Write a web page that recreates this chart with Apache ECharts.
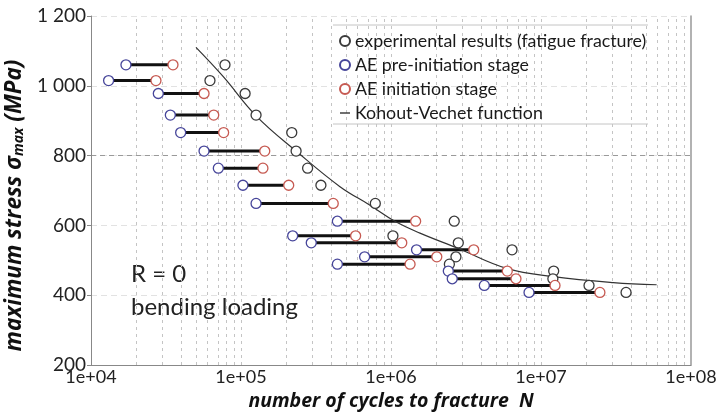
<!DOCTYPE html>
<html>
<head>
<meta charset="utf-8">
<script src="https://cdn.jsdelivr.net/npm/echarts@6/dist/echarts.min.js"></script>
<style>html,body{margin:0;padding:0;background:#fff}#c{width:721px;height:417px}</style>
</head>
<body>
<div id="c"></div>
<script>
// stress levels (MPa)
var stress   = [1060, 1015, 978, 916, 866, 813, 764, 715, 663, 612, 570, 550, 530, 510, 489, 469, 447, 428, 408];
// AE pre-initiation stage (cycles)
var preInit  = [1.71e4, 1.31e4, 2.81e4, 3.38e4, 3.96e4, 5.67e4, 7.06e4, 1.03e5, 1.26e5, 4.39e5, 2.21e5, 2.94e5, 1.48e6, 6.67e5, 4.39e5, 2.41e6, 2.56e6, 4.19e6, 8.32e6];
// AE initiation stage (cycles)
var initSt   = [3.52e4, 2.71e4, 5.67e4, 6.58e4, 7.66e4, 1.44e5, 1.40e5, 2.08e5, 4.12e5, 1.46e6, 5.81e5, 1.18e6, 3.56e6, 2.02e6, 1.34e6, 5.96e6, 6.81e6, 1.24e7, 2.47e7];
// experimental results (fatigue fracture)
var fracture = [7.82e4, 6.21e4, 1.065e5, 1.26e5, 2.18e5, 2.33e5, 2.78e5, 3.41e5, 7.86e5, 2.64e6, 1.03e6, 2.81e6, 6.41e6, 2.71e6, 2.45e6, 1.215e7, 1.2e7, 2.09e7, 3.69e7];
// Kohout-Vechet curve
var kvN     = [5.01e4, 7.62e4, 1.26e5, 2.36e5, 4.57e5, 7.24e5, 1.07e6, 1.56e6, 2.81e6, 5.9e6, 1.21e7, 3.03e7, 5.9e7];
var kvS     = [1110, 1026, 914, 811, 711, 658, 611, 578, 534, 477, 453, 436, 430];
// tick labels / gridlines
var yTicks = [200, 400, 600, 800, 1000, 1200];
var xMinorGrid = [];
[1e4, 1e5, 1e6, 1e7].forEach(function (d) { for (var k = 2; k <= 9; k++) xMinorGrid.push(k * d); });
var xMajorGrid = [1e5, 1e6, 1e7];

var names = ['experimental results (fatigue fracture)', 'AE pre-initiation stage', 'AE initiation stage', 'Kohout-Vechet function'];
var BLUE = '#46459a', RED = '#c65a52', BLACK = '#3a3a3a';
var FONT = 'Lato';
var TFONT = 'Open Sans';

var series = [];
// gridlines helper
series.push({
  type: 'line', data: [], silent: true, z: 0, zlevel: 0,
  markLine: {
    silent: true, symbol: 'none', label: {show: false}, z: 0,
    lineStyle: {color: '#c4c4c4', type: [3, 4], width: 1},
    data: xMinorGrid.concat(xMajorGrid).map(function (v) { return {xAxis: v}; })
  }
});
series.push({
  type: 'line', data: [], silent: true, z: 0,
  markLine: {
    silent: true, symbol: 'none', label: {show: false}, z: 0,
    lineStyle: {color: '#9a9a9a', type: [5, 4], width: 1},
    data: [{yAxis: 800}]
  }
});
// pair connecting lines
for (var i = 0; i < stress.length; i++) {
  series.push({
    type: 'line', silent: true, symbol: 'none', z: 4,
    lineStyle: {color: '#111', width: 3},
    data: [[preInit[i], stress[i]], [initSt[i], stress[i]]]
  });
}
series.push({
  name: names[3], type: 'line', smooth: 0.4, symbol: 'none', z: 4,
  lineStyle: {color: '#333', width: 1.2}, itemStyle: {color: '#333'},
  data: kvN.map(function (n, i) { return [n, kvS[i]]; })
});
function scat(name, xs, col) {
  return {
    name: name, type: 'scatter', symbol: 'circle', symbolSize: 10, z: 6,
    itemStyle: {color: '#fff', borderColor: col, borderWidth: 1.3, opacity: 1},
    data: xs.map(function (n, i) { return [n, stress[i]]; })
  };
}
series.push(scat(names[0], fracture, BLACK));
series.push(scat(names[1], preInit, BLUE));
series.push(scat(names[2], initSt, RED));

var chart = echarts.init(document.getElementById('c'), null, {renderer: 'canvas'});
chart.setOption({
  animation: false,
  backgroundColor: '#fff',
  grid: {left: 91, right: 30, top: 16, bottom: 52, containLabel: false, outerBoundsMode: 'none'},
  legend: {
    orient: 'vertical', left: 334, top: 27, itemWidth: 10, itemHeight: 10, itemGap: 6,
    textStyle: {fontFamily: FONT, fontSize: 17.8, color: '#1a1a1a', lineHeight: 17},
    data: [
      {name: names[0], icon: 'circle'},
      {name: names[1], icon: 'circle'},
      {name: names[2], icon: 'circle'},
      {name: names[3], icon: 'path://M0,0L10,0L10,1.4L0,1.4Z'}
    ],
    selectedMode: false
  },
  xAxis: {
    type: 'log', logBase: 10, min: 1e4, max: 1e8, splitNumber: 4,
    name: 'number of cycles to fracture  N', nameLocation: 'middle', nameGap: 26,
    nameTextStyle: {fontFamily: TFONT, fontSize: 19.5, fontWeight: 'bold', fontStyle: 'italic', color: '#111'},
    axisLine: {lineStyle: {color: '#888', width: 1}},
    axisTick: {show: false},
    splitLine: {show: false},
    axisLabel: {fontFamily: FONT, fontSize: 18, color: '#222', margin: 3,
      formatter: function (v) { var e = Math.round(Math.log10(v)); return '1e+' + (e < 10 ? '0' + e : e); }}
  },
  yAxis: [{
    type: 'value', min: 200, max: 1200, interval: 200,
    name: '{a|maximum stress σ}{b|max}{a| (MPa)}', nameLocation: 'middle', nameRotate: 90, nameGap: 51,
    nameTextStyle: {padding: [0, 30, 0, 0], rich: {
      a: {fontFamily: TFONT, fontSize: 22.5, fontWeight: 'bold', fontStyle: 'italic', color: '#111', lineHeight: 30, verticalAlign: 'bottom'},
      b: {fontFamily: TFONT, fontSize: 14, fontWeight: 'bold', fontStyle: 'italic', color: '#111', lineHeight: 14, verticalAlign: 'bottom'}
    }},
    axisLine: {show: true, lineStyle: {color: '#888', width: 1}},
    axisTick: {show: true, length: 4, lineStyle: {color: '#888'}},
    splitLine: {show: true, lineStyle: {color: '#e2e2e2', type: [6, 4]}},
    axisLabel: {fontFamily: FONT, fontSize: 19, color: '#222', margin: 5,
      formatter: function (v) { return v >= 1000 ? String(v).replace(/(\d)(\d{3})$/, '$1 $2') : String(v); }}
  }, {
    type: 'value', min: 200, max: 1200, interval: 200, position: 'right',
    axisLine: {show: true, lineStyle: {color: '#999', width: 1.5}},
    axisTick: {show: false}, axisLabel: {show: false}, splitLine: {show: false}
  }],
  graphic: [
    {type: 'line', shape: {x1: 333, y1: 25, x2: 648, y2: 25}, style: {stroke: '#c4c4c4', lineWidth: 1}},
    {type: 'line', shape: {x1: 333, y1: 124, x2: 648, y2: 124}, style: {stroke: '#c4c4c4', lineWidth: 1}},
    {type: 'text', left: 131, top: 262, style: {text: 'R = 0', font: '24px Lato', fill: '#222'}},
    {type: 'text', left: 131, top: 295, style: {text: 'bending loading', font: '24px Lato', fill: '#222'}}
  ],
  series: series
});
</script>
</body>
</html>
